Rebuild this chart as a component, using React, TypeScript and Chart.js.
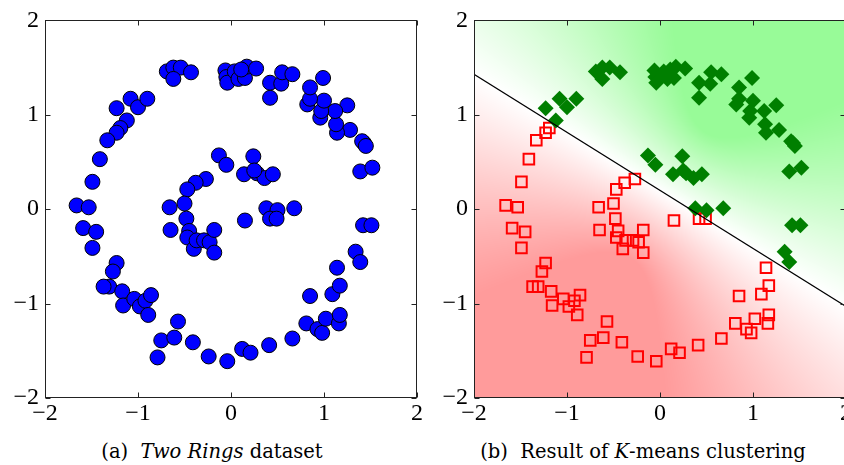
import React, { useEffect, useRef } from "react";
import { Chart, registerables } from "chart.js";
Chart.register(...registerables);

// Points assigned to the "green" cluster by K-means (right panel diamonds)
const greenX = [
  -0.69, -0.62, -0.54, -0.62, -0.43, -1.08, -1.0, -0.9, -1.23, -1.12,
  1.34, 1.39, 1.42, 1.51, 1.39, 1.52, 1.43, 1.41, 1.45, 1.28, 1.14, 1.13, 1.25, 1.12, 0.96, 0.97,
  1.0, 0.82, 0.85, 0.85, 0.99, 0.42, 0.42, 0.54, 0.55, 0.66,
  -0.06, -0.05, -0.04, 0.04, 0.08, 0.15, 0.17, 0.27, 0.11,
  -0.13, -0.05, 0.24, 0.14, 0.28, 0.36, 0.45, 0.25, 0.38, 0.5, 0.68,
];
const greenY = [
  1.46, 1.5, 1.5, 1.38, 1.45, 1.17, 1.08, 1.17, 1.07, 0.94,
  -0.45, -0.56, -0.17, -0.17, 0.4, 0.44, 0.7, 0.72, 0.67, 0.84, 0.81, 0.9, 1.1, 1.04, 0.97, 1.04,
  1.15, 1.11, 1.17, 1.29, 1.39, 1.18, 1.34, 1.33, 1.45, 1.43,
  1.47, 1.4, 1.34, 1.46, 1.38, 1.39, 1.51, 1.49, 1.48,
  0.57, 0.47, 0.56, 0.37, 0.38, 0.33, 0.37, 0.41, 0.01, -0.01, 0.01,
];
// Points assigned to the "red" cluster (right panel squares)
const redX = [
  -1.19, -1.23, -1.33, -1.41, -1.49, -1.66, -1.53, -1.59, -1.45, -1.49,
  -1.23, -1.27, -1.31, -1.37, -1.17, -1.16, -1.04, -0.98, -0.92, -0.86, -0.89,
  -0.57, -0.75, -0.61, -0.79, -0.41, -0.24, -0.04, 0.12, 0.21, 0.41, 0.66,
  0.81, 0.93, 0.98, 1.02, 1.16, 1.17, 0.85, 1.09, 1.17, 1.14,
  -0.27, -0.38, -0.47, -0.5, -0.66, -0.65, -0.48, -0.45, -0.47, -0.4, -0.37, -0.29, -0.23, -0.18, -0.18,
  0.15, 0.42, 0.49,
];
const redY = [
  0.86, 0.81, 0.73, 0.53, 0.29, 0.04, 0.02, -0.2, -0.24, -0.41,
  -0.57, -0.66, -0.82, -0.82, -0.87, -1.02, -0.95, -1.03, -0.97, -0.91, -1.12,
  -1.19, -1.39, -1.36, -1.57, -1.41, -1.56, -1.61, -1.48, -1.52, -1.44, -1.37,
  -1.21, -1.27, -1.31, -1.16, -1.21, -1.12, -0.92, -0.9, -0.81, -0.62,
  0.32, 0.28, 0.21, 0.06, 0.02, -0.22, -0.1, -0.23, -0.3, -0.42, -0.33, -0.33, -0.35, -0.22, -0.46,
  -0.12, -0.1, -0.1,
];
// Decision boundary endpoints
const boundaryX = [-2, 2];
const boundaryY = [1.43, -1.03];
// Cluster centres used for the background shading
const greenCentre = [0.57, 0.94];
const redCentre = [-0.4, -0.64];
const tickValues = [-2, -1, 0, 1, 2];

const TICK_FONT = "'Liberation Serif', 'DejaVu Serif', serif";
const CAP_FONT = "'DejaVu Serif', 'Liberation Serif', serif";

function fmt(v: number | string) {
  const n = Number(v);
  return n < 0 ? "\u2212" + Math.abs(n) : String(n);
}

const framePlugin = {
  id: "frame",
  afterDatasetsDraw(chart: any) {
    const { ctx, chartArea: a, scales } = chart;
    ctx.save();
    ctx.strokeStyle = "#222";
    ctx.lineWidth = 1;
    const l = Math.round(a.left) + 0.5;
    const t = Math.round(a.top) + 0.5;
    const r = Math.round(a.right) - 0.5;
    const b = Math.round(a.bottom) - 0.5;
    ctx.strokeRect(l, t, r - l, b - t);
    const L = 5;
    ctx.beginPath();
    for (const v of tickValues) {
      const px = Math.round(scales.x.getPixelForValue(v)) + 0.5;
      ctx.moveTo(px, b);
      ctx.lineTo(px, b - L);
      ctx.moveTo(px, t);
      ctx.lineTo(px, t + L);
      const py = Math.round(scales.y.getPixelForValue(v)) + 0.5;
      ctx.moveTo(l, py);
      ctx.lineTo(l + L, py);
      ctx.moveTo(r, py);
      ctx.lineTo(r - L, py);
    }
    ctx.stroke();
    ctx.restore();
  },
};

const shadePlugin = {
  id: "shade",
  beforeDatasetsDraw(chart: any) {
    const { ctx, chartArea: a, scales } = chart;
    const x0 = Math.round(a.left);
    const y0 = Math.round(a.top);
    const w = Math.round(a.right) - x0;
    const h = Math.round(a.bottom) - y0;
    const img = ctx.createImageData(w, h);
    const sat = 1.55;
    for (let j = 0; j < h; j++) {
      const yv = scales.y.getValueForPixel(y0 + j + 0.5);
      for (let i = 0; i < w; i++) {
        const xv = scales.x.getValueForPixel(x0 + i + 0.5);
        const dg = Math.hypot(xv - greenCentre[0], yv - greenCentre[1]);
        const dr = Math.hypot(xv - redCentre[0], yv - redCentre[1]);
        const v = dr - dg;
        const tt = Math.min(1, Math.abs(v) / sat);
        let r, g, b;
        if (v > 0) {
          r = 255 + (152 - 255) * tt;
          g = 255 + (251 - 255) * tt;
          b = 255 + (152 - 255) * tt;
        } else {
          r = 255;
          g = 255 + (155 - 255) * tt;
          b = 255 + (155 - 255) * tt;
        }
        const k = (j * w + i) * 4;
        img.data[k] = r;
        img.data[k + 1] = g;
        img.data[k + 2] = b;
        img.data[k + 3] = 255;
      }
    }
    ctx.putImageData(img, x0, y0);
  },
};

function axis(fixed: number, horizontal: boolean) {
  return {
    type: "linear",
    min: -2,
    max: 2,
    grid: { display: false, drawTicks: false },
    border: { display: false },
    ticks: {
      stepSize: 1,
      color: "#000",
      font: { family: TICK_FONT, size: 24 },
      padding: horizontal ? 1 : 6,
      callback: (v: any) => fmt(v),
    },
    afterFit: (s: any) => {
      if (horizontal) s.height = fixed;
      else s.width = fixed;
    },
  };
}

function useChart(ref: React.RefObject<HTMLCanvasElement>, make: () => any) {
  useEffect(() => {
    if (!ref.current) return;
    const c = new Chart(ref.current, make());
    return () => c.destroy();
  }, []);
}

export default function App() {
  const leftRef = useRef<HTMLCanvasElement>(null);
  const rightRef = useRef<HTMLCanvasElement>(null);

  useChart(leftRef, () => {
    const allX = [...greenX, ...redX];
    const allY = [...greenY, ...redY];
    return {
      type: "scatter",
      data: {
        datasets: [
          {
            data: allX.map((x, i) => ({ x, y: allY[i] })),
            backgroundColor: "#0000ff",
            borderColor: "#000",
            borderWidth: 1,
            pointRadius: 7.5,
            pointStyle: "circle",
          },
        ],
      },
      options: {
        responsive: false,
        animation: false,
        devicePixelRatio: 1,
        layout: { padding: { left: 0, right: 13, top: 15, bottom: 0 } },
        plugins: { legend: { display: false }, tooltip: { enabled: false } },
        scales: { x: axis(34, true), y: axis(45, false) },
      },
      plugins: [framePlugin],
    };
  });

  useChart(rightRef, () => ({
    type: "scatter",
    data: {
      datasets: [
        {
          type: "line",
          data: boundaryX.map((x, i) => ({ x, y: boundaryY[i] })),
          borderColor: "#000",
          borderWidth: 1.2,
          pointRadius: 0,
          showLine: true,
          fill: false,
          order: 0,
        },
        {
          data: greenX.map((x, i) => ({ x, y: greenY[i] })),
          backgroundColor: "#007f00",
          borderColor: "#007f00",
          borderWidth: 0,
          pointRadius: 8,
          pointStyle: "rectRot",
          order: 1,
        },
        {
          data: redX.map((x, i) => ({ x, y: redY[i] })),
          backgroundColor: "rgba(0,0,0,0)",
          borderColor: "#ff0000",
          borderWidth: 2,
          pointRadius: 7.5,
          pointStyle: "rect",
          order: 2,
        },
      ],
    },
    options: {
      responsive: false,
      animation: false,
      devicePixelRatio: 1,
      layout: { padding: { left: 0, right: 14, top: 15, bottom: 0 } },
      plugins: { legend: { display: false }, tooltip: { enabled: false } },
      scales: { x: axis(34, true), y: axis(44, false) },
    },
    plugins: [shadePlugin, framePlugin],
  }));

  const cap: React.CSSProperties = {
    position: "absolute",
    top: 440,
    fontFamily: CAP_FONT,
    fontSize: 19.5,
    lineHeight: "normal",
    color: "#000",
    textAlign: "center",
    whiteSpace: "nowrap",
  };

  return (
    <div
      style={{
        position: "fixed",
        left: 0,
        top: 0,
        width: 844,
        height: 465,
        overflow: "hidden",
        background: "#fff",
      }}
    >
      <canvas
        ref={leftRef}
        width={430}
        height={432}
        style={{ position: "absolute", left: 0, top: 0, width: 430, height: 432 }}
      />
      <canvas
        ref={rightRef}
        width={430}
        height={432}
        style={{ position: "absolute", left: 430, top: 0, width: 430, height: 432 }}
      />
      <div style={{ ...cap, left: 0, width: 424 }}>
        (a)&nbsp; <i>Two Rings</i> dataset
      </div>
      <div style={{ ...cap, left: 440, width: 406 }}>
        (b)&nbsp; Result of <i>K</i>-means clustering
      </div>
    </div>
  );
}
